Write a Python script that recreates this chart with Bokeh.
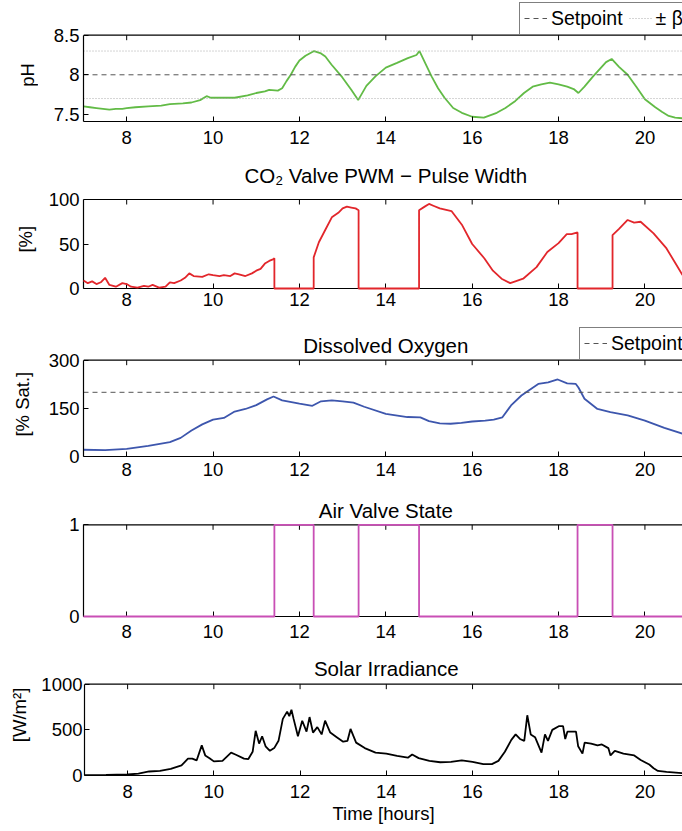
import math
from bokeh.plotting import figure
from bokeh.layouts import column, row
from bokeh.models import (FixedTicker, CustomJSTickFormatter, Legend, LegendItem, Range1d,
                          Span)
from bokeh.core.properties import value
from bokeh.embed import file_html
from bokeh.resources import INLINE

# ---------------- data ----------------
x_ticks = [8, 10, 12, 14, 16, 18, 20]

ph_setpoint = 8.0
ph_beta = 0.3
ph_ticks = [7.5, 8, 8.5]
ph_t = [7.0, 7.15, 7.3, 7.45, 7.6, 7.75, 7.9, 8.0, 8.2, 8.5, 8.8, 9.0, 9.3, 9.5, 9.7, 9.85, 9.95,
        10.0, 10.3, 10.5, 10.8, 11.0, 11.2, 11.3, 11.5, 11.6, 11.7, 11.8, 11.9, 12.0, 12.14,
        12.34, 12.5, 12.6, 12.74, 12.99, 13.2, 13.36, 13.55, 13.76, 14.0, 14.26, 14.51, 14.71,
        14.78, 14.91, 15.06, 15.21, 15.36, 15.56, 15.76, 16.0, 16.27, 16.57, 16.77, 17.0, 17.2,
        17.4, 17.6, 17.8, 18.0, 18.2, 18.35, 18.46, 18.6, 18.8, 19.0, 19.1, 19.23, 19.4, 19.6,
        19.8, 20.0, 20.24, 20.4, 20.55, 20.7, 20.87]
ph_val = [7.60, 7.59, 7.58, 7.57, 7.56, 7.57, 7.57, 7.58, 7.59, 7.60, 7.61, 7.63, 7.64, 7.65,
          7.68, 7.73, 7.71, 7.71, 7.71, 7.71, 7.74, 7.77, 7.79, 7.81, 7.80, 7.83, 7.92, 8.00,
          8.10, 8.18, 8.24, 8.30, 8.27, 8.23, 8.13, 7.97, 7.81, 7.68, 7.86, 7.98, 8.09, 8.15,
          8.21, 8.25, 8.30, 8.15, 7.98, 7.83, 7.71, 7.58, 7.52, 7.47, 7.46, 7.52, 7.58, 7.67,
          7.77, 7.85, 7.88, 7.90, 7.88, 7.85, 7.82, 7.77, 7.85, 7.98, 8.10, 8.16, 8.20, 8.10,
          8.00, 7.85, 7.69, 7.59, 7.53, 7.48, 7.46, 7.45]

co2_ticks = [0, 50, 100]
co2_t = [7.0, 7.1, 7.2, 7.3, 7.4, 7.5, 7.6, 7.75, 7.9, 8.0, 8.1, 8.25, 8.4, 8.5, 8.6, 8.75, 8.9,
         9.0, 9.1, 9.25, 9.35, 9.45, 9.55, 9.75, 9.9, 10.0, 10.15, 10.25, 10.4, 10.5, 10.6,
         10.75, 10.9, 11.0, 11.1, 11.2, 11.3, 11.4, 11.42, 11.42, 12.33, 12.33, 12.45, 12.6,
         12.75, 12.9, 13.0, 13.1, 13.2, 13.3, 13.37, 13.37, 14.77, 14.77, 14.9, 15.0, 15.1,
         15.25, 15.52, 15.77, 16.0, 16.28, 16.48, 16.68, 16.88, 17.0, 17.18, 17.49, 17.74,
         18.0, 18.19, 18.3, 18.44, 18.44, 19.25, 19.25, 19.4, 19.6, 19.75, 19.9, 20.2, 20.5,
         20.71, 20.87]
co2_val = [9, 6, 8, 5, 7, 12, 4, 2, 6, 5, 2, 1, 3, 2, 4, 1, 2,
           7, 6, 9, 12, 17, 14, 13, 16, 15, 14, 15, 14, 17, 16,
           14, 17, 20, 22, 28, 31, 33, 34, 0, 0, 35, 52, 66,
           80, 85, 90, 92, 91, 90, 88, 0, 0, 88, 92, 95, 93,
           90, 87, 71, 50, 34, 20, 11, 6, 8, 11, 24, 41,
           51, 61, 61, 63, 0, 0, 60, 67, 77, 74, 75, 62, 45,
           28, 15]

do_setpoint = 200
do_ticks = [0, 150, 300]
do_t = [7.0, 7.5, 8.0, 8.5, 9.0, 9.25, 9.5, 9.75, 10.0, 10.25, 10.5, 10.75, 11.0, 11.25, 11.4,
        11.6, 12.0, 12.3, 12.5, 12.75, 13.0, 13.25, 13.5, 14.0, 14.5, 14.8, 15.0, 15.25, 15.5,
        15.75, 16.0, 16.3, 16.5, 16.7, 16.9, 17.14, 17.3, 17.53, 17.76, 17.98, 18.2, 18.4,
        18.46, 18.52, 18.6, 18.9, 19.2, 19.6, 20.0, 20.45, 20.87]
do_val = [21, 20, 24, 33, 45, 58, 81, 100, 115, 120, 140, 148, 160, 178, 187,
          175, 165, 158, 172, 175, 172, 168, 155, 133, 123, 122, 110, 103, 102,
          105, 109, 112, 115, 122, 159, 190, 205, 226, 231, 240, 228, 226,
          215, 200, 180, 148, 138, 128, 112, 89, 71]

air_ticks = [0, 1]
air_t = [7.0, 11.42, 12.33, 13.37, 14.77, 18.44, 19.25, 20.87]
air_state = [0, 1, 0, 1, 0, 1, 0, 0]

sol_ticks = [0, 500, 1000]
sol_t = [7.0, 7.5, 8.0, 8.25, 8.5, 8.75, 9.0, 9.25, 9.4, 9.5, 9.6, 9.72, 9.8, 9.9, 10.0, 10.2,
         10.4, 10.5, 10.7, 10.8, 10.9, 10.97, 11.05, 11.12, 11.2, 11.3, 11.4, 11.5, 11.6, 11.7,
         11.75, 11.8, 11.85, 11.95, 12.05, 12.15, 12.22, 12.3, 12.4, 12.5, 12.58, 12.7, 12.85,
         13.0, 13.1, 13.17, 13.3, 13.5, 13.75, 14.0, 14.25, 14.5, 14.6, 14.75, 15.0, 15.25,
         15.5, 15.75, 16.0, 16.25, 16.45, 16.6, 16.75, 16.9, 17.0, 17.1, 17.2, 17.27, 17.35,
         17.45, 17.6, 17.68, 17.75, 17.85, 18.0, 18.1, 18.15, 18.2, 18.4, 18.45, 18.55, 18.6,
         18.75, 18.9, 19.0, 19.15, 19.2, 19.3, 19.5, 19.75, 19.9, 20.1, 20.2, 20.3, 20.5, 20.87]
sol_val = [5, 7, 11, 20, 44, 50, 72, 110, 185, 185, 165, 330, 220, 190, 155, 160,
           250, 230, 185, 180, 260, 490, 350, 430, 320, 270, 300, 380, 620, 700,
           650, 720, 620, 430, 600, 480, 640, 470, 530, 450, 600, 470, 420,
           370, 380, 510, 360, 300, 250, 240, 215, 195, 230, 190, 160, 145,
           150, 165, 150, 125, 125, 160, 260, 390, 450, 400, 380, 660, 450,
           420, 250, 450, 380, 500, 540, 540, 400, 480, 480, 320, 240, 360,
           350, 330, 340, 300, 220, 270, 240, 220, 170, 120, 80, 50, 40, 25]

titles = ["CO₂ Valve PWM − Pulse Width", "Dissolved Oxygen", "Air Valve State",
          "Solar Irradiance"]
ylabels = ["pH", "[%]", "[% Sat.]", "", "[W/m²]"]

# ---------------- style / layout (pixels) ----------------
FONT = "Liberation Sans"
FS = "18.5px"
FS_TITLE = "20.5px"
FS_LEG = "19.5px"
W = 682
LABEL_W = 38
LEFT = 83 - LABEL_W
X0, X1 = 7.0, 20.87
X_MID = 14.0
AXW = 1.2
LW = 1.8
SP_COLOR = "#555555"
BETA_COLOR = "#aaaaaa"
LABEL_SHIFT = 15  # measured correction for rotated label placement


def make_panel(height, bottom, lo, hi, plot_px, extra_px, y_ticks, ylabel, label_x,
               title=None, title_px=None, xlabel=None, tick_standoff=5, xlabel_standoff=4,
               ytick_standoff=4):
    """Panel whose frame reaches up `extra_px` above the data area (room for title/legend)."""
    k = (hi - lo) / plot_px
    p = figure(width=W - LABEL_W, height=height, x_range=Range1d(X0, X1),
               y_range=Range1d(lo, hi + extra_px * k), output_backend="svg",
               toolbar_location=None, min_border_left=LEFT, min_border_right=0,
               min_border_top=0, min_border_bottom=bottom, outline_line_color=None)
    p.grid.visible = False
    fmt = CustomJSTickFormatter(code="return tick.toString();")
    for ax in p.xaxis:
        ax.ticker = FixedTicker(ticks=x_ticks)
        ax.formatter = fmt
        ax.major_label_standoff = tick_standoff
    for ax in p.yaxis:
        ax.ticker = FixedTicker(ticks=y_ticks)
        ax.formatter = fmt
        ax.bounds = (lo, hi)
        ax.major_label_standoff = ytick_standoff
    for ax in list(p.xaxis) + list(p.yaxis):
        ax.major_tick_in = 5
        ax.major_tick_out = 0
        ax.minor_tick_line_color = None
        ax.axis_line_width = AXW
        ax.major_tick_line_width = 1
        ax.major_label_text_font = FONT
        ax.major_label_text_font_size = FS
        ax.major_label_text_color = "black"
        ax.axis_label_text_font = FONT
        ax.axis_label_text_font_size = FS
        ax.axis_label_text_font_style = "normal"
        ax.axis_label_text_color = "black"
    if xlabel:
        p.xaxis.axis_label = xlabel
        p.xaxis.axis_label_standoff = xlabel_standoff
    # top border with inward ticks
    p.add_layout(Span(location=hi, dimension="width", line_color="black", line_width=AXW))
    p.ray(x=x_ticks, y=[hi] * len(x_ticks), length=5, length_units="screen",
          angle=-math.pi / 2, line_color="black", line_width=1)
    if title is not None:
        p.text(x=[X_MID], y=[hi + title_px * k], text=[title], text_font=value(FONT),
               text_font_size=value(FS_TITLE), text_align="center",
               text_baseline="alphabetic", text_color="black")
    # y label strip on the left
    lab = figure(width=LABEL_W, height=height, x_range=Range1d(0, LABEL_W),
                 y_range=Range1d(0, height), output_backend="svg", toolbar_location=None,
                 min_border_left=0, min_border_right=0, min_border_top=0,
                 min_border_bottom=0, outline_line_color=None, x_axis_type=None,
                 y_axis_type=None)
    lab.grid.visible = False
    if ylabel:
        center_from_bottom = bottom + plot_px / 2 - LABEL_SHIFT
        lab.text(x=[label_x], y=[center_from_bottom], text=[ylabel], angle=math.pi / 2,
                 text_font=value(FONT), text_font_size=value(FS), text_align="center",
                 text_baseline="middle", text_color="black")
    return p, lab


def make_legend(items, loc):
    return Legend(items=items, orientation="horizontal", location=loc, margin=0,
                  padding=4, spacing=6, glyph_width=23, glyph_height=18, label_standoff=4,
                  label_text_font=FONT, label_text_font_size=FS_LEG,
                  label_text_color="black", border_line_color="black",
                  border_line_width=1, background_fill_alpha=1)


# Panel 1: pH (page rows 0-151; 8.5 at y=34.7, 7.41 at y=121)
p1, l1 = make_panel(151, 30, 7.41, 8.5, 86.3, 34.7, ph_ticks, ylabels[0], 27,
                    tick_standoff=9)
p1.line(ph_t, ph_val, line_color="#62bb46", line_width=LW)
r_sp = p1.line([X0, X1], [ph_setpoint] * 2, line_color=SP_COLOR, line_width=1,
               line_dash="5 4")
r_b = p1.line([X0, X1], [ph_setpoint + ph_beta] * 2, line_color=BETA_COLOR, line_width=1,
              line_dash="1 2")
p1.line([X0, X1], [ph_setpoint - ph_beta] * 2, line_color=BETA_COLOR, line_width=1,
        line_dash="1 2")
p1.add_layout(make_legend([LegendItem(label="Setpoint", renderers=[r_sp]),
                           LegendItem(label="± β", renderers=[r_b])], (436, 86.3)))

# Panel 2: CO2 valve PWM (rows 151-319; 100 at 199, 0 at 288)
p2, l2 = make_panel(168, 31, 0, 100, 89, 48, co2_ticks, ylabels[1], 25,
                    title=titles[0], title_px=24, tick_standoff=4)
r2 = p2.line(co2_t, co2_val, line_color="#e2262b", line_width=LW)
r2.level = "overlay"

# Panel 3: Dissolved oxygen (rows 319-487; 300 at 359.7, 0 at 456)
p3, l3 = make_panel(168, 31, 0, 300, 96.3, 40.7, do_ticks, ylabels[2], 22,
                    title=titles[1], title_px=14.7, tick_standoff=6)
p3.line(do_t, do_val, line_color="#3d56ad", line_width=LW)
r_dsp = p3.line([X0, X1], [do_setpoint] * 2, line_color=SP_COLOR, line_width=1,
                line_dash="5 4")
p3.add_layout(make_legend([LegendItem(label="Setpoint", renderers=[r_dsp])], (496, 96.3)))

# Panel 4: Air valve state (rows 487-645; 1 at 524.3, 0 at 616)
p4, l4 = make_panel(158, 29, 0, 1, 91.7, 37.3, air_ticks, ylabels[3], 20,
                    title=titles[2], title_px=14.3, tick_standoff=8)
r4 = p4.step(air_t, air_state, mode="after", line_color="#c94fb5", line_width=LW)
r4.level = "overlay"

# Panel 5: Solar irradiance (rows 645-831; 1000 at 683.7, 0 at 775)
p5, l5 = make_panel(186, 56, 0, 1000, 91.3, 38.7, sol_ticks, ylabels[4], 19,
                    title=titles[3], title_px=16.2, xlabel="Time [hours]",
                    tick_standoff=9, xlabel_standoff=2, ytick_standoff=2)
p5.line(sol_t, sol_val, line_color="black", line_width=LW)

layout = column(row(l1, p1, spacing=0), row(l2, p2, spacing=0), row(l3, p3, spacing=0),
                row(l4, p4, spacing=0), row(l5, p5, spacing=0), spacing=0)
open("out.html", "w").write(file_html(layout, INLINE))
